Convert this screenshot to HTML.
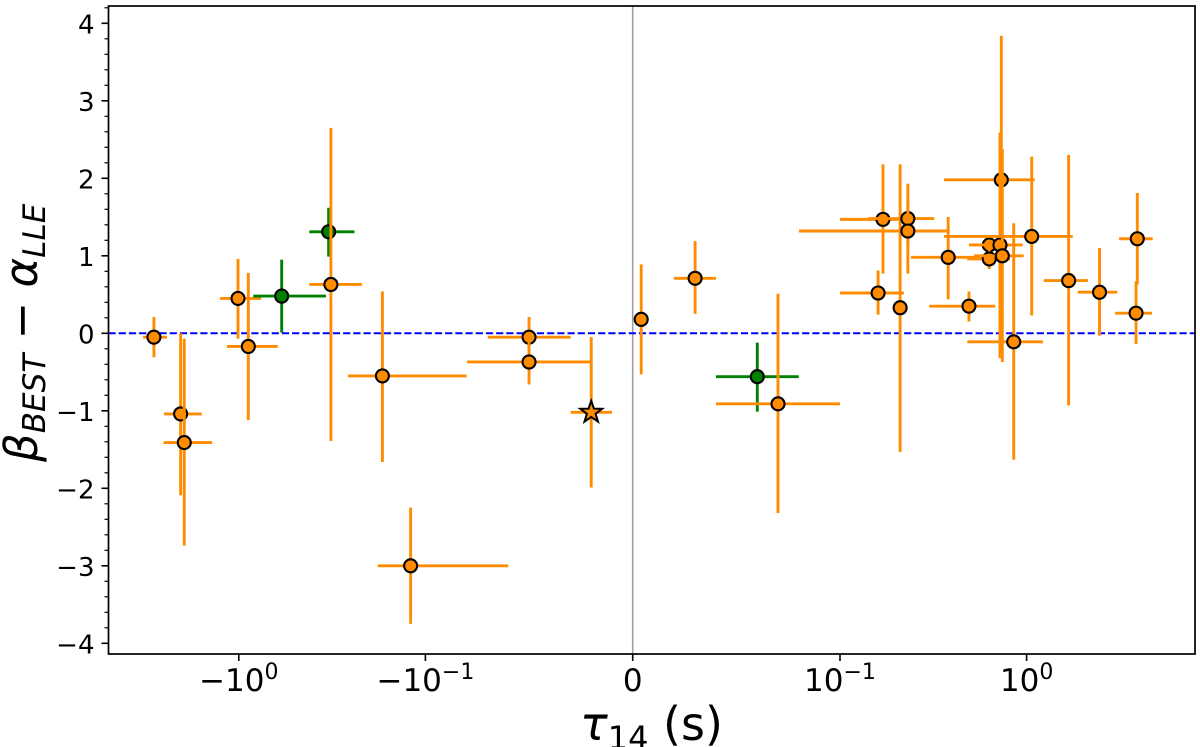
<!DOCTYPE html>
<html lang="en">
<head>
<meta charset="utf-8">
<title>Scatter plot of beta minus alpha against tau</title>
<style>
html,body{margin:0;padding:0;background:#fff;}
svg{display:block;}
text{font-family:"DejaVu Sans","Liberation Sans",sans-serif;fill:#000;}
</style>
</head>
<body>
<svg id="chart" xmlns="http://www.w3.org/2000/svg" width="1200" height="747" viewBox="0 0 1200 747">
  <rect x="108.5" y="6" width="1086.5" height="648" fill="#fff"/>
  <g id="marks"></g>
  <g id="axes"></g>
  <text x="580" y="740" font-size="46"><tspan font-style="italic">τ</tspan><tspan font-size="32" dy="9">14</tspan><tspan dy="-9"> (s)</tspan></text>
  <text transform="translate(37,462) rotate(-90)" font-size="45"><tspan font-style="italic">β</tspan><tspan font-size="31" font-style="italic" dy="8">BEST</tspan><tspan dy="-8"> − </tspan><tspan font-style="italic">α</tspan><tspan font-size="31" font-style="italic" dy="8">LLE</tspan></text>
</svg>
<script>
const pointGroup = ['orange','orange','orange','orange','orange','green','green','orange','orange','orange','orange','orange','star','orange','orange','green','orange','orange','orange','orange','orange','orange','orange','orange','orange','orange','orange','orange','orange','orange','orange','orange','orange','orange','orange'];
const tau = [-2.85,-2.05,-1.96,-1.01,-0.889,-0.589,-0.330,-0.321,-0.170,-0.120,-0.0500,-0.0500,-0.0200,0.0041,0.0301,0.0601,0.0701,0.160,0.210,0.170,0.231,0.231,0.380,0.491,0.732,0.631,0.720,0.631,0.741,1.065,0.853,1.68,2.46,3.92,3.86];
const tauMin = [-3.26,-2.52,-2.53,-1.26,-1.157,-0.836,-0.419,-0.419,-0.260,-0.180,-0.0699,-0.0799,-0.0299,0.0035,0.0199,0.0402,0.0402,0.100,0.205,0.100,0.142,0.0802,0.240,0.301,0.361,0.491,0.542,0.481,0.523,0.361,0.481,1.235,1.88,3.13,2.98];
const tauMax = [-2.43,-1.58,-1.39,-0.76,-0.619,-0.341,-0.240,-0.219,-0.0801,-0.0600,-0.0299,-0.0203,-0.0100,0.0047,0.0402,0.0801,0.1000,0.220,0.215,0.223,0.320,0.380,0.584,0.680,1.105,0.815,0.953,0.815,0.965,1.766,1.224,2.13,3.06,4.74,4.70];
const beta = [-0.05,-1.04,-1.41,0.45,-0.17,0.48,1.31,0.63,-0.55,-3.00,-0.05,-0.37,-1.02,0.18,0.71,-0.56,-0.91,0.52,0.33,1.47,1.48,1.32,0.98,0.35,1.98,1.14,1.14,0.96,1.00,1.25,-0.11,0.68,0.53,1.22,0.26];
const betaMin = [-0.31,-2.09,-2.74,-0.07,-1.12,0.01,0.99,-1.39,-1.66,-3.75,-0.31,-0.66,-1.99,-0.53,0.25,-1.01,-2.32,0.24,-1.53,0.77,1.13,0.77,0.44,0.15,-0.09,0.92,-0.32,0.83,-0.37,0.23,-1.63,-0.93,-0.03,0.63,-0.14];
const betaMax = [0.21,0.00,-0.07,0.96,0.78,0.95,1.62,2.65,0.54,-2.25,0.21,-0.09,-0.05,0.89,1.19,-0.12,0.51,0.81,2.18,2.18,1.93,1.71,1.50,0.54,3.84,1.26,2.59,1.14,2.38,2.28,1.42,2.30,1.10,1.81,0.67];
const xTickValues = [-1,-0.1,0,0.1,1];
const xTickBases = ['−10','−10','0','10','10'];
const xTickExponents = ['0','−1','','−1','0'];
const yTickValues = [-4,-3,-2,-1,0,1,2,3,4];
const yTickLabels = ['−4','−3','−2','−1','0','1','2','3','4'];
const yMinorTickValues = [-3.8,-3.6,-3.4,-3.2,-2.8,-2.6,-2.4,-2.2,-1.8,-1.6,-1.4,-1.2,-0.8,-0.6,-0.4,-0.2,0.2,0.4,0.6,0.8,1.2,1.4,1.6,1.8,2.2,2.4,2.6,2.8,3.2,3.4,3.6,3.8,4.2];
const referenceBeta = 0;
const referenceTau = 0;

const NS = 'http://www.w3.org/2000/svg';
const plotLeft = 108.5, plotRight = 1195, plotTop = 6, plotBottom = 654;
const xZero = 632.7, linSpan = 207.3, decade = 186.6, linThresh = 0.1;
const yZero = 333.3, yUnit = 77.5;
const colors = {orange:'#ff8c00', star:'#ff8c00', green:'#008000'};

function xScale(t){
  const a = Math.abs(t), s = t < 0 ? -1 : 1;
  if (a <= linThresh) return xZero + s * linSpan * a / linThresh;
  return xZero + s * (linSpan + decade * Math.log10(a / linThresh));
}
function yScale(v){ return yZero - yUnit * v; }

function make(tag, attrs, parent){
  const el = document.createElementNS(NS, tag);
  for (const k in attrs) el.setAttribute(k, attrs[k]);
  parent.appendChild(el);
  return el;
}

const marks = document.getElementById('marks');
const axes = document.getElementById('axes');

const vline = make('line', {x1:xScale(referenceTau), x2:xScale(referenceTau), y1:plotTop, y2:plotBottom, stroke:'#a0a0a0', 'stroke-width':1.6}, marks);



const hline = make('line', {x1:plotLeft, x2:plotRight, y1:yScale(referenceBeta), y2:yScale(referenceBeta), stroke:'#0000ff', 'stroke-width':2, 'stroke-dasharray':'7.2 3'}, marks);



function starPoints(cx, cy, R, r){
  const pts = [];
  for (let i = 0; i < 10; i++){
    const ang = -Math.PI / 2 + i * Math.PI / 5;
    const rad = i % 2 === 0 ? R : r;
    pts.push((cx + rad * Math.cos(ang)).toFixed(2) + ',' + (cy + rad * Math.sin(ang)).toFixed(2));
  }
  return pts.join(' ');
}

tau.forEach(function(t, i){
  const g = make('g', {}, marks);
  
  
  const c = colors[pointGroup[i]];
  const px = xScale(t), py = yScale(beta[i]);
  const eh = make('line', {x1:xScale(tauMin[i]), x2:xScale(tauMax[i]), y1:py, y2:py, stroke:c, 'stroke-width':2.9}, g);
  
  
  const ev = make('line', {x1:px, x2:px, y1:yScale(betaMax[i]), y2:yScale(betaMin[i]), stroke:c, 'stroke-width':2.9}, g);
  
  
  let m;
  if (pointGroup[i] === 'star') {
    m = make('polygon', {points:starPoints(px, py, 11.5, 4.6), fill:c, stroke:'#000', 'stroke-width':2, 'stroke-linejoin':'miter'}, g);
  } else {
    m = make('circle', {cx:px, cy:py, r:6.5, fill:c, stroke:'#000', 'stroke-width':2.1}, g);
  }
  
  
});

const frame = make('rect', {x:plotLeft, y:plotTop, width:plotRight - plotLeft, height:plotBottom - plotTop, fill:'none', stroke:'#000', 'stroke-width':1.7}, axes);



yTickValues.forEach(function(v, i){
  const y = yScale(v);
  const tick = make('line', {x1:plotLeft - 7, x2:plotLeft, y1:y, y2:y, stroke:'#000', 'stroke-width':1.6}, axes);
  
  
  const lab = make('text', {x:plotLeft - 14, y:y + 10, 'font-size':26, 'text-anchor':'end'}, axes);
  lab.textContent = yTickLabels[i];
  
  
});

yMinorTickValues.forEach(function(v){
  const y = yScale(v);
  const tick = make('line', {x1:plotLeft - 4, x2:plotLeft, y1:y, y2:y, stroke:'#000', 'stroke-width':1.2}, axes);
  
  
});

xTickValues.forEach(function(v, i){
  const x = xScale(v);
  const tick = make('line', {x1:x, x2:x, y1:plotBottom, y2:plotBottom + 7, stroke:'#000', 'stroke-width':1.6}, axes);
  
  
  const lab = make('text', {x:x, y:plotBottom + 37, 'font-size':31, 'text-anchor':'middle'}, axes);
  const base = make('tspan', {}, lab);
  base.textContent = xTickBases[i];
  if (xTickExponents[i] !== '') {
    const sup = make('tspan', {'font-size':22, dy:-12}, lab);
    sup.textContent = xTickExponents[i];
  }
  
  
});
</script>
</body>
</html>
